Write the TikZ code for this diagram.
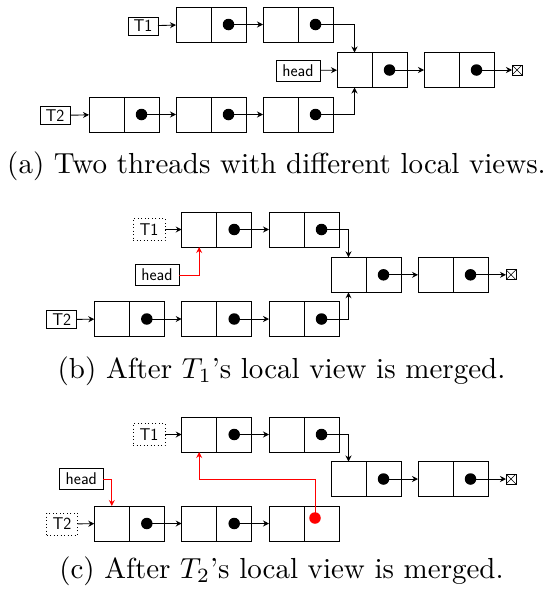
\documentclass[tikz,border=0pt]{standalone}
\usetikzlibrary{arrows.meta}
\tikzset{
  cell/.style={draw, line width=1pt, minimum width=35pt, minimum height=35pt, inner sep=0pt, outer sep=0pt},
  dotmark/.style={circle, fill=black, minimum size=11.5pt, inner sep=0pt, outer sep=0pt},
  reddot/.style={dotmark, fill=red},
  lbl/.style={draw, line width=0.8pt, minimum width=30pt, minimum height=18pt, inner sep=0pt, outer sep=0pt, font=\sffamily\fontsize{17}{18}\selectfont},
  dotbox/.style={lbl, dash pattern=on 0.9pt off 2.6pt, minimum width=32pt, minimum height=22pt},
  term/.style={draw, line width=0.8pt, minimum size=10pt, inner sep=0pt, outer sep=0pt,
    path picture={\draw[line width=0.6pt] (path picture bounding box.north west) -- (path picture bounding box.south east)
                  (path picture bounding box.north east) -- (path picture bounding box.south west);}},
  arr/.style={line width=0.9pt, -{Stealth[length=6pt,width=6pt,inset=2pt]}},
  captxt/.style={anchor=base, scale=2.9, font=\normalsize},
}
\newcommand\LLnode[3]{%
  \node[cell, anchor=west] (#1l) at (#2,#3) {};
  \node[cell, anchor=west] (#1r) at (#1l.east) {};
}
\begin{document}
\begin{tikzpicture}[x=1pt,y=-1pt]
\useasboundingbox (0,0) rectangle (552,592);
% ---------------- (a)
\node[lbl] (aT1) at (143,26) {T1};
\LLnode{at1}{176}{24.5}
\LLnode{at2}{263}{24.5}
\node[lbl, minimum width=44pt, minimum height=21pt] (ahead) at (298,70.5) {head};
\LLnode{am1}{337}{70}
\LLnode{am2}{424}{70}
\node[term] (aterm) at (517,70) {};
\node[lbl] (aT2) at (55,115.5) {T2};
\LLnode{ab1}{89}{114.5}
\LLnode{ab2}{176}{114.5}
\LLnode{ab3}{263}{114.5}
\foreach \n in {at1,at2,am1,am2,ab1,ab2,ab3} {\node[dotmark] (\n d) at (\n r.center) {};}
\draw[arr] (aT1) -- (at1l);
\draw[arr] (at1d.center) -- (at2l);
\draw[arr] (at2d.center) -| (am1l.north);
\draw[arr] (ahead) -- (am1l);
\draw[arr] (am1d.center) -- (am2l);
\draw[arr] (am2d.center) -- (aterm);
\draw[arr] (aT2) -- (ab1l);
\draw[arr] (ab1d.center) -- (ab2l);
\draw[arr] (ab2d.center) -- (ab3l);
\draw[arr] (ab3d.center) -| (am1l.south);
\node[captxt] (capa) at (276.5,173) {(a) Two threads with different local views.};
% ---------------- (b)
\node[dotbox] (bT1) at (149,229.5) {T1};
\LLnode{bt1}{181.7}{229.5}
\LLnode{bt2}{269}{229.5}
\node[lbl, minimum width=44pt, minimum height=21pt] (bhead) at (157,275) {head};
\LLnode{bm1}{331}{274.8}
\LLnode{bm2}{418}{274.8}
\node[term] (bterm) at (511,274.8) {};
\node[lbl] (bT2) at (61.7,319.5) {T2};
\LLnode{bb1}{94.3}{319}
\LLnode{bb2}{181.7}{319}
\LLnode{bb3}{269}{319}
\foreach \n in {bt1,bt2,bm1,bm2,bb1,bb2,bb3} {\node[dotmark] (\n d) at (\n r.center) {};}
\draw[arr] (bT1) -- (bt1l);
\draw[arr] (bt1d.center) -- (bt2l);
\draw[arr] (bt2d.center) -| (bm1l.north);
\draw[arr, red] (bhead) -| (bt1l.south);
\draw[arr] (bm1d.center) -- (bm2l);
\draw[arr] (bm2d.center) -- (bterm);
\draw[arr] (bT2) -- (bb1l);
\draw[arr] (bb1d.center) -- (bb2l);
\draw[arr] (bb2d.center) -- (bb3l);
\draw[arr] (bb3d.center) -| (bm1l.south);
\node[captxt] (capb) at (281.5,378) {(b) After $T_1$'s local view is merged.};
% ---------------- (c)
\node[dotbox] (cT1) at (149,434.5) {T1};
\LLnode{ct1}{181.7}{434.5}
\LLnode{ct2}{269}{434.5}
\node[lbl, minimum width=44pt, minimum height=21pt] (chead) at (81.3,479) {head};
\LLnode{cm1}{331}{479}
\LLnode{cm2}{418}{479}
\node[term] (cterm) at (511,479) {};
\node[dotbox, minimum width=31pt] (cT2) at (62,524) {T2};
\LLnode{cb1}{94.3}{523.5}
\LLnode{cb2}{181.7}{523.5}
\LLnode{cb3}{269}{523.5}
\foreach \n in {ct1,ct2,cm1,cm2,cb1,cb2} {\node[dotmark] (\n d) at (\n r.center) {};}
\node[reddot] (cb3d) at (315,518) {};
\coordinate (cbend) at (315,479);
\draw[arr] (cT1) -- (ct1l);
\draw[arr] (ct1d.center) -- (ct2l);
\draw[arr] (ct2d.center) -| (cm1l.north);
\draw[arr] (cm1d.center) -- (cm2l);
\draw[arr] (cm2d.center) -- (cterm);
\draw[arr, red] (chead) -| (cb1l.north);
\draw[arr] (cT2) -- (cb1l);
\draw[arr] (cb1d.center) -- (cb2l);
\draw[arr] (cb2d.center) -- (cb3l);
\draw[arr, red] (cb3d.center) -- (cbend) -| (ct1l.south);
\node[captxt] (capc) at (281.5,578) {(c) After $T_2$'s local view is merged.};
\end{tikzpicture}
\end{document}
